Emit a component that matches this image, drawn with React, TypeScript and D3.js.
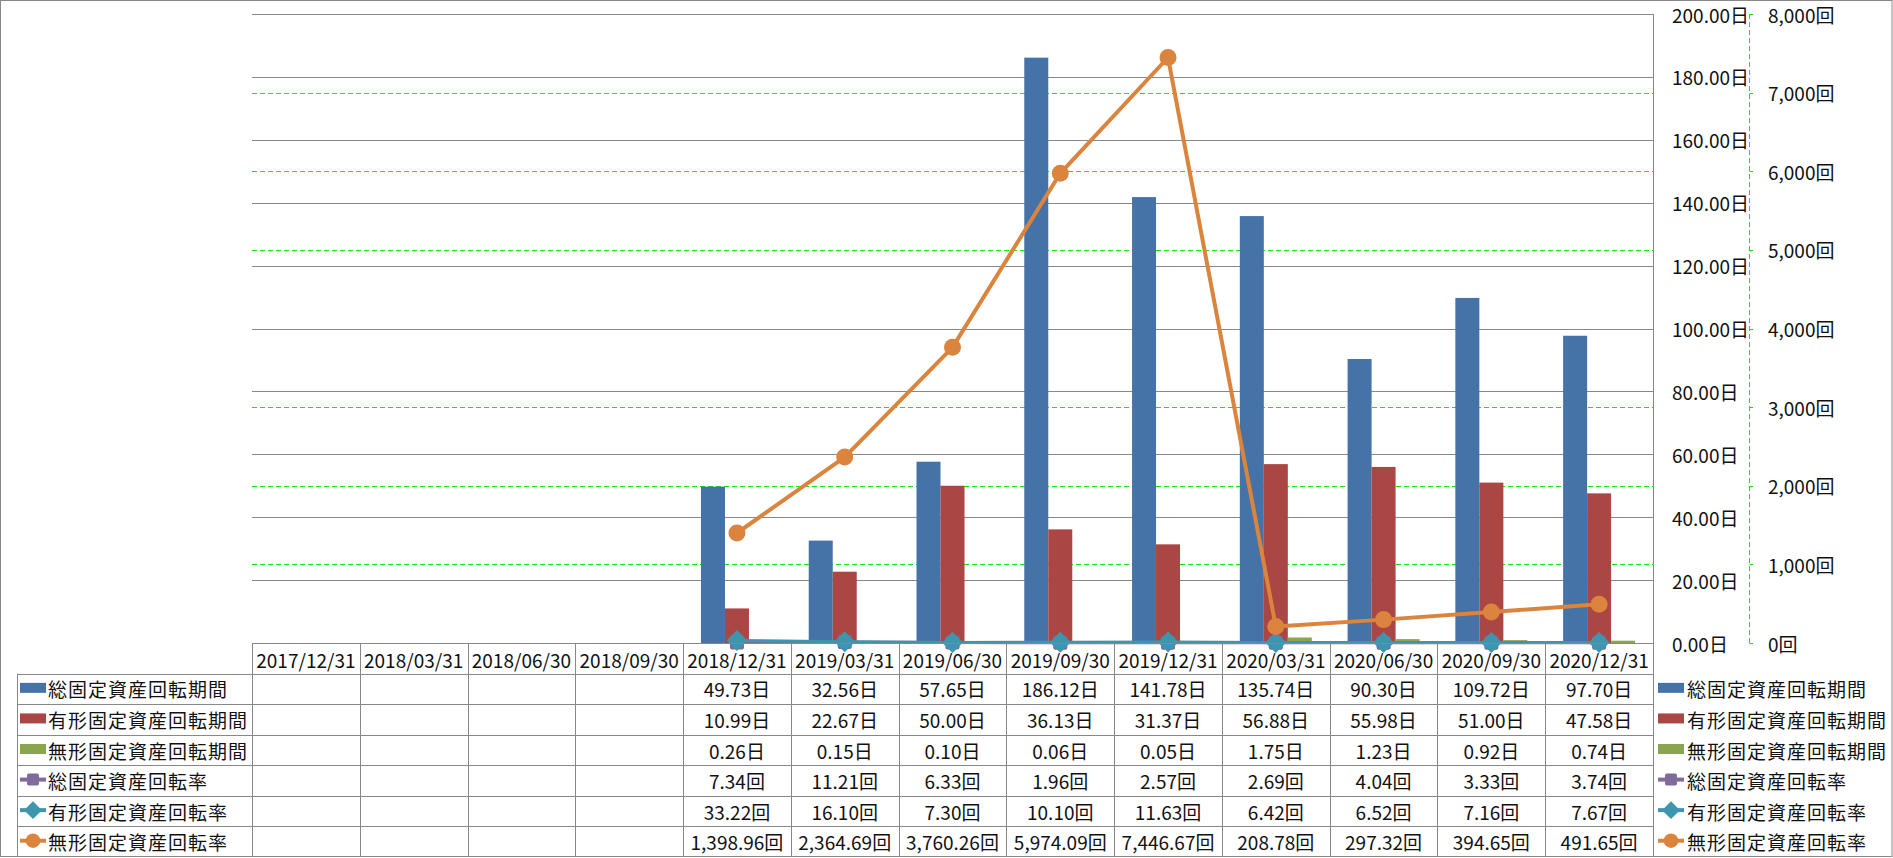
import React from 'react';
import * as d3 from 'd3';

const categories = ['2017/12/31','2018/03/31','2018/06/30','2018/09/30','2018/12/31','2019/03/31','2019/06/30','2019/09/30','2019/12/31','2020/03/31','2020/06/30','2020/09/30','2020/12/31'];
const totalPeriod = [null,null,null,null,49.73,32.56,57.65,186.12,141.78,135.74,90.30,109.72,97.70];
const tangiblePeriod = [null,null,null,null,10.99,22.67,50.00,36.13,31.37,56.88,55.98,51.00,47.58];
const intangiblePeriod = [null,null,null,null,0.26,0.15,0.10,0.06,0.05,1.75,1.23,0.92,0.74];
const totalRate = [null,null,null,null,7.34,11.21,6.33,1.96,2.57,2.69,4.04,3.33,3.74];
const tangibleRate = [null,null,null,null,33.22,16.10,7.30,10.10,11.63,6.42,6.52,7.16,7.67];
const intangibleRate = [null,null,null,null,1398.96,2364.69,3760.26,5974.09,7446.67,208.78,297.32,394.65,491.65];
const leftTicks = [0,20,40,60,80,100,120,140,160,180,200];
const rightTicks = [0,1000,2000,3000,4000,5000,6000,7000,8000];

const barSeries = [
  { name: '総固定資産回転期間', values: totalPeriod, color: '#4572A7' },
  { name: '有形固定資産回転期間', values: tangiblePeriod, color: '#AA4643' },
  { name: '無形固定資産回転期間', values: intangiblePeriod, color: '#89A54E' },
];
const lineSeries = [
  { name: '総固定資産回転率', values: totalRate, color: '#80699B', marker: 'square' },
  { name: '有形固定資産回転率', values: tangibleRate, color: '#3D96AE', marker: 'diamond' },
  { name: '無形固定資産回転率', values: intangibleRate, color: '#DB843D', marker: 'circle' },
];

const W = 1893, H = 858;
const PL = 252, PR = 1653, PT = 14, PB = 643;
const TB = 857;
const rowH = (TB - PB) / 7;
const FONT = '"Noto Sans CJK JP", "Noto Sans", sans-serif';
const GRID = '#888888';
const GREEN = '#00ee00';

const fmtDay = (v: number) => d3.format(',.2f')(v) + '日';
const fmtRate = (v: number) => d3.format(',.2f')(v) + '回';

function Marker({ type, x, y, color, s = 1 }: any) {
  if (type === 'circle') return <circle cx={x} cy={y} r={8.5 * s} fill={color} />;
  if (type === 'diamond') {
    const r = 10.5 * s;
    return <path d={`M${x},${y - r}L${x + r},${y}L${x},${y + r}L${x - r},${y}Z`} fill={color} />;
  }
  const a = 7 * s;
  return <rect x={x - a} y={y - a} width={2 * a} height={2 * a} rx={2 * s} fill={color} />;
}

function LegendSymbol({ kind, color, marker, x, y }: any) {
  if (kind === 'bar') return <rect x={x} y={y - 5} width={26} height={10} fill={color} />;
  return (
    <g>
      <line x1={x} x2={x + 26} y1={y} y2={y} stroke={color} strokeWidth={4} />
      <Marker type={marker} x={x + 13} y={y} color={color} s={0.85} />
    </g>
  );
}

export default function App() {
  const x = d3.scaleBand<string>().domain(categories).range([PL, PR]).paddingInner(0).paddingOuter(0);
  const bw = x.bandwidth();
  const inner = d3.scaleBand<number>().domain([0, 1, 2]).range([-36, 36]).paddingInner(0);
  const yL = d3.scaleLinear().domain([0, 200]).range([PB, PT]);
  const yR = d3.scaleLinear().domain([0, 8000]).range([PB, PT]);
  const cx = (c: string) => (x(c) as number) + bw / 2;

  const allRows = [
    ...barSeries.map(s => ({ ...s, kind: 'bar', fmt: fmtDay })),
    ...lineSeries.map(s => ({ ...s, kind: 'line', fmt: fmtRate })),
  ];

  return (
    <svg width={W} height={H} style={{ position: 'absolute', left: 0, top: 0, background: '#fff' }} fontFamily={FONT}>
      <rect x={0.5} y={0.5} width={W - 1.5} height={856} fill="#fff" stroke={GRID} strokeWidth={1} />

      {rightTicks.filter(t => t > 0 && t < 8000).map(t => (
        <line key={'g' + t} x1={PL} x2={PR} y1={Math.round(yR(t)) + 0.5} y2={Math.round(yR(t)) + 0.5} stroke={GREEN} strokeDasharray="5,3" strokeWidth={1} />
      ))}
      {leftTicks.filter(t => t > 0).map(t => (
        <line key={'l' + t} x1={PL} x2={PR} y1={Math.round(yL(t)) + 0.5} y2={Math.round(yL(t)) + 0.5} stroke={GRID} strokeWidth={1} />
      ))}

      {barSeries.map((s, si) => (
        <g key={s.name}>
          {categories.map((c, i) => {
            const v = s.values[i];
            if (v == null) return null;
            const bx = cx(c) + (inner(si) as number);
            return <rect key={c} x={bx} y={yL(v)} width={inner.bandwidth()} height={PB - yL(v)} fill={s.color} />;
          })}
        </g>
      ))}

      {lineSeries.map(s => {
        const pts = categories.map((c, i) => ({ c, v: s.values[i] })).filter(p => p.v != null) as { c: string; v: number }[];
        const line = d3.line<{ c: string; v: number }>().x(p => cx(p.c)).y(p => yR(p.v));
        return (
          <g key={s.name}>
            <path d={line(pts) || ''} fill="none" stroke={s.color} strokeWidth={s.marker === 'circle' ? 4 : 3} strokeLinejoin="round" />
            {pts.map(p => <Marker key={p.c} type={s.marker} x={cx(p.c)} y={yR(p.v)} color={s.color} />)}
          </g>
        );
      })}

      {leftTicks.map(t => (
        <text key={'tl' + t} x={1672} y={yL(t)} dominantBaseline="central" fontSize={19} fill="#111">{fmtDay(t)}</text>
      ))}
      <line x1={1749.5} x2={1749.5} y1={PT} y2={PB} stroke={GREEN} strokeDasharray="5,3" />
      {rightTicks.map(t => (
        <line key={'rt' + t} x1={1749.5} x2={1753} y1={Math.round(yR(t)) + 0.5} y2={Math.round(yR(t)) + 0.5} stroke={GREEN} />
      ))}
      {rightTicks.map(t => (
        <text key={'tr' + t} x={1768} y={yR(t)} dominantBaseline="central" fontSize={19} fill="#111">{d3.format(',')(t) + '回'}</text>
      ))}

      <line x1={PL} x2={PR} y1={PB + 0.5} y2={PB + 0.5} stroke={GRID} />
      {d3.range(1, 7).map(r => (
        <line key={'hr' + r} x1={17} x2={PR} y1={Math.round(PB + r * rowH) + 0.5} y2={Math.round(PB + r * rowH) + 0.5} stroke={GRID} />
      ))}
      <line x1={17} x2={PR} y1={TB - 0.5} y2={TB - 0.5} stroke={GRID} />
      <line x1={17.5} x2={17.5} y1={PB + rowH} y2={TB} stroke={GRID} />
      {categories.map(c => (
        <line key={'v' + c} x1={Math.round(x(c) as number) + 0.5} x2={Math.round(x(c) as number) + 0.5} y1={PB} y2={TB} stroke={GRID} />
      ))}
      <line x1={PR + 0.5} x2={PR + 0.5} y1={PT} y2={TB} stroke={GRID} />

      {categories.map(c => (
        <text key={'h' + c} x={cx(c)} y={PB + rowH / 2 + 1} textAnchor="middle" dominantBaseline="central" fontSize={19} fill="#111">{c}</text>
      ))}

      {allRows.map((s, ri) => {
        const yc = PB + (ri + 1) * rowH + rowH / 2;
        return (
          <g key={'row' + s.name}>
            <LegendSymbol kind={s.kind} color={s.color} marker={(s as any).marker} x={20} y={yc - 1} />
            <text x={48} y={yc} dominantBaseline="central" fontSize={19} letterSpacing={1} fill="#111">{s.name}</text>
            {categories.map((c, i) => {
              const v = s.values[i];
              if (v == null) return null;
              return <text key={c} x={cx(c)} y={yc} textAnchor="middle" dominantBaseline="central" fontSize={19} fill="#111">{s.fmt(v)}</text>;
            })}
            <LegendSymbol kind={s.kind} color={s.color} marker={(s as any).marker} x={1658} y={yc - 1} />
            <text x={1687} y={yc} dominantBaseline="central" fontSize={19} letterSpacing={1} fill="#111">{s.name}</text>
          </g>
        );
      })}
    </svg>
  );
}
